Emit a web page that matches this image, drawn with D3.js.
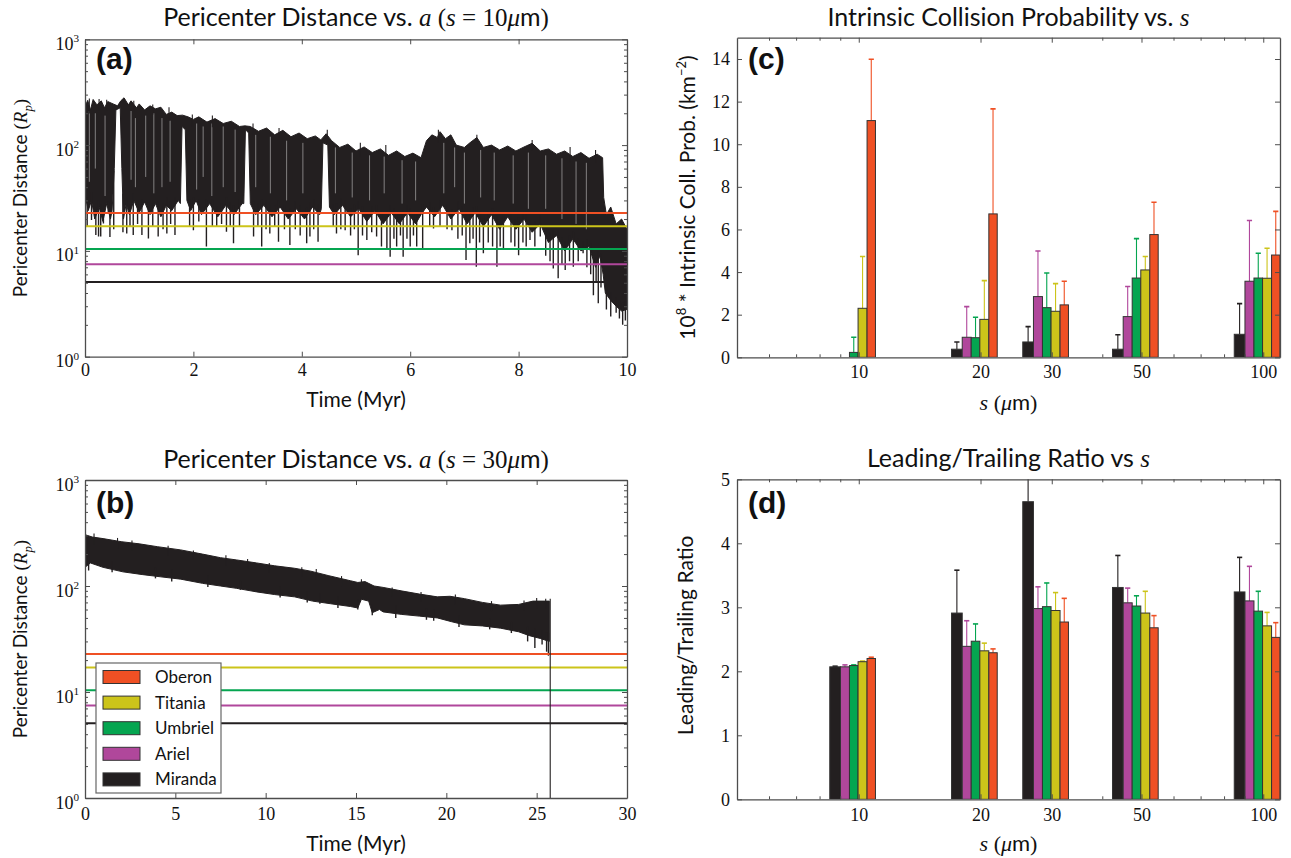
<!DOCTYPE html>
<html><head><meta charset="utf-8">
<script src="https://cdn.jsdelivr.net/npm/d3@7"></script>
<style>body{margin:0;background:#fff} text{white-space:pre}</style>
</head><body>
<svg id="chart" width="1291" height="858" xmlns="http://www.w3.org/2000/svg"></svg>
<script>
// ---------------- DATA ----------------
const moonNames = ["Oberon", "Titania", "Umbriel", "Ariel", "Miranda"];
const moonColors = ["#EF5024", "#CCC41A", "#05A550", "#B0479B", "#231F20"];
const moonDistances = [22.83, 17.07, 10.40, 7.47, 5.08]; // Uranus radii

// panel (a): s = 10 um, envelope of the pericenter distance (time Myr, R_p)
const upperA = [[0.00,230],[0.05,265],[0.10,215],[0.15,270],[0.22,240],[0.30,262],[0.36,225],[0.42,258],[0.48,250],[0.52,245],[0.60,235],[0.66,262],[0.72,280],[0.80,240],[0.85,262],[0.95,225],[1.00,245],[1.10,215],[1.20,235],[1.30,220],[1.40,228],[1.50,195],[1.60,205],[1.70,190],[1.80,192],[1.90,185],[2.00,175],[2.10,185],[2.25,165],[2.40,178],[2.55,160],[2.70,168],[2.85,150],[2.95,152],[3.05,150],[3.20,135],[3.35,145],[3.50,125],[3.65,138],[3.80,120],[3.95,130],[4.10,115],[4.25,122],[4.35,112],[4.45,128],[4.55,110],[4.70,95],[4.85,102],[5.00,88],[5.15,96],[5.30,85],[5.45,92],[5.60,80],[5.75,88],[5.90,78],[6.05,84],[6.20,76],[6.30,110],[6.40,125],[6.50,118],[6.55,134],[6.65,115],[6.75,125],[6.85,100],[7.00,95],[7.10,105],[7.23,118],[7.35,95],[7.50,100],[7.65,90],[7.80,98],[7.95,88],[8.10,96],[8.25,104],[8.40,88],[8.55,92],[8.70,82],[8.85,88],[9.00,78],[9.15,85],[9.30,75],[9.45,82],[9.55,76],[9.57,32],[9.62,22],[9.70,26],[9.80,18],[9.90,20],[10.0,16]];
const lowerA = [[0.00,34],[0.06,24],[0.12,30],[0.18,20],[0.26,26],[0.33,19],[0.40,28],[0.47,20],[0.50,24],[0.54,60],[0.57,215],[0.65,225],[0.68,60],[0.71,20],[0.76,28],[0.82,22],[0.90,30],[1.00,23],[1.10,29],[1.20,22],[1.30,28],[1.40,21],[1.50,27],[1.60,24],[1.72,30],[1.76,28],[1.79,150],[1.85,140],[1.88,30],[1.95,24],[2.05,30],[2.15,22],[2.30,28],[2.45,21],[2.60,27],[2.75,22],[2.90,28],[2.93,28],[2.96,140],[3.02,130],[3.05,28],[3.15,22],[3.30,27],[3.45,21],[3.60,26],[3.75,20],[3.90,25],[4.05,20],[4.20,26],[4.33,22],[4.36,25],[4.39,105],[4.48,100],[4.51,26],[4.60,22],[4.75,27],[4.90,21],[5.05,25],[5.20,19],[5.35,24],[5.50,18],[5.65,23],[5.80,18],[5.95,23],[6.10,18],[6.20,22],[6.30,26],[6.45,21],[6.60,27],[6.75,20],[6.90,25],[7.05,18],[7.20,23],[7.35,17],[7.50,22],[7.65,16],[7.80,21],[7.95,16],[8.10,20],[8.25,15],[8.40,18],[8.55,12],[8.70,14],[8.85,10],[9.00,13],[9.15,10],[9.30,11],[9.42,7],[9.50,9],[9.56,6],[9.60,4],[9.70,3.4],[9.80,3.0],[9.90,2.7],[10.0,2.8]];
const dipsA = [[0.04,17],[0.12,19.6],[0.20,14.1],[0.25,13.7],[0.29,13.7],[0.34,18.2],[0.43,22.6],[0.46,13.5],[0.53,16],[0.70,15],[0.77,14.6],[0.83,17],[0.89,14.1],[0.97,18],[1.05,14.1],[1.17,13.1],[1.25,17],[1.35,13.7],[1.44,16],[1.51,14.6],[1.58,18],[1.66,14.1],[1.93,17],[2.00,15.7],[2.10,19],[2.24,11.0],[2.35,17],[2.43,16.9],[2.52,18],[2.61,15.2],[2.68,17],[2.74,11.8],[2.85,17],[3.11,13.7],[3.19,17],[3.26,11.0],[3.34,16],[3.41,14.6],[3.50,17],[3.57,12.2],[3.68,16],[3.78,11.4],[3.88,16],[3.97,14],[4.09,11.8],[4.15,13.7],[4.22,16],[4.30,12.2],[4.58,17],[4.64,14.6],[4.72,16],[4.80,15.7],[4.90,14],[4.97,16],[5.04,9.1],[5.12,14],[5.20,12.7],[5.29,15],[5.38,13.7],[5.47,11.0],[5.57,10.6],[5.63,8.8],[5.70,13],[5.75,11.0],[5.82,14],[5.87,8.8],[5.94,13],[6.00,11.0],[6.06,14],[6.12,11.0],[6.23,10.2],[6.36,17],[6.43,16.3],[6.55,17],[6.68,16],[6.77,15.7],[6.88,13],[6.96,14],[7.03,8.2],[7.10,11.8],[7.16,13],[7.22,7.1],[7.28,12],[7.35,9.5],[7.44,12],[7.52,11],[7.60,7.1],[7.66,11],[7.72,10.2],[7.86,12],[7.93,11],[8.00,9.1],[8.08,12],[8.14,11],[8.21,12.7],[8.30,11],[8.40,13.7],[8.50,9],[8.58,8],[8.64,6.8],[8.73,5.5],[8.80,7.5],[8.86,6.6],[8.94,8],[9.01,7.1],[9.10,8],[9.19,9.5],[9.26,7],[9.33,6],[9.38,3.8],[9.43,5],[9.47,3.2],[9.52,4.5],[9.62,2.8],[9.70,2.4],[9.80,2.6],[9.86,2.3],[9.92,2.0],[9.97,2.2]];
const peaksA = [[0.08,275],[0.26,272],[0.40,268],[0.90,262],[1.25,242],[1.55,228],[1.98,195],[2.35,190],[3.10,160],[3.58,145],[4.47,140],[5.08,105],[5.55,100],[6.52,140],[7.23,125],[8.25,112],[8.95,96],[9.42,90]];
// white streaks seen inside the dark band: time, top, bottom
const streaksA = [[0.08,210,45],[0.19,200,60],[0.37,190,33],[0.85,210,47],[0.93,180,40],[1.12,190,50],[1.27,200,35],[1.42,180,40],[1.57,170,45],[2.06,160,38],[2.18,150,50],[2.34,160,33],[2.55,150,40],[2.77,140,36],[3.15,125,40],[3.42,120,35],[3.72,110,30],[4.02,105,35],[4.62,95,35],[4.93,85,32],[5.25,80,30],[5.52,78,35],[5.85,72,28],[6.10,70,30],[6.62,105,35],[6.82,95,40],[7.00,85,28],[7.30,90,32],[7.55,85,30],[7.90,80,28],[8.18,85,25],[8.50,80,25],[8.80,75,20],[9.06,70,18],[9.25,68,16]];

// panel (b): s = 30 um
const upperB = [[0,305],[0.4,290],[1.0,280],[2.0,262],[3.0,250],[4.0,235],[5.3,219],[6.5,200],[7.5,185],[8.4,176],[9.5,165],[10.5,155],[11.6,147],[12.5,138],[13.5,125],[14.7,112],[15.1,108],[15.5,110],[16.0,100],[16.5,97],[17.5,90],[18.5,84],[19.5,79],[20.2,80],[21.0,76],[22.0,70],[23.0,66],[24.0,67],[24.8,72],[25.7,72]];
const lowerB = [[0,150],[0.3,165],[1.0,150],[2.1,136],[3.2,128],[4.2,122],[5.3,116],[6.5,106],[7.5,100],[8.4,95],[9.5,88],[10.5,83],[11.6,79],[12.6,72],[13.6,68],[14.7,64],[15.1,62],[15.3,75],[15.7,72],[15.9,56],[16.3,60],[16.5,57],[17.5,54],[18.5,52],[19.5,50],[20.3,46],[21,43],[22,42],[23,40],[24,37],[24.6,34],[25.2,32],[25.7,30]];
const dipsB = [[0.2,140],[1.5,135],[3.9,118],[4.8,110],[6.8,98],[8.6,92],[10.8,78],[12.3,70],[13.0,68],[14.0,62],[15.1,60],[15.9,53],[17.2,50],[18.9,48],[19.3,47],[20.7,41],[22.4,39],[23.6,36],[24.5,30],[24.9,26],[25.3,28],[25.55,24],[25.65,22]];
const peaksB = [[0.5,312],[1.8,284],[2.6,268],[4.6,240],[6.0,216],[7.8,195],[9.0,180],[10.2,165],[12.0,150],[12.8,145],[14.2,124],[15.3,116],[17.0,97],[18.6,88],[20.5,83],[22.5,72],[24.3,73],[25.0,77],[25.5,76]];
const endB = [25.75, 76, 1];   // time, top, bottom of the final drop

// panels (c), (d)
const grainSizes = [10, 20, 30, 50, 100];
const barMoons = ["Miranda", "Ariel", "Umbriel", "Titania", "Oberon"];
const barColors = ["#231F20", "#B0479B", "#05A550", "#CCC41A", "#EF5024"];

const probMiranda = [0, 0.38, 0.72, 0.38, 1.08];
const probAriel   = [0, 0.94, 2.85, 1.91, 3.57];
const probUmbriel = [0.23, 0.92, 2.33, 3.72, 3.72];
const probTitania = [2.30, 1.78, 2.16, 4.10, 3.71];
const probOberon  = [11.11, 6.73, 2.46, 5.76, 4.80];
const probMirandaTop = [0, 0.72, 1.44, 1.06, 2.52];
const probArielTop   = [0, 2.38, 4.99, 3.32, 6.42];
const probUmbrielTop = [0.94, 1.88, 3.96, 5.57, 4.88];
const probTitaniaTop = [4.73, 3.60, 3.46, 4.73, 5.12];
const probOberonTop  = [13.99, 11.66, 3.57, 7.28, 6.85];

const ratioMiranda = [2.07, 2.91, 4.65, 3.31, 3.24];
const ratioAriel   = [2.07, 2.39, 2.98, 3.07, 3.10];
const ratioUmbriel = [2.09, 2.47, 3.01, 3.02, 2.94];
const ratioTitania = [2.15, 2.32, 2.95, 2.91, 2.71];
const ratioOberon  = [2.20, 2.29, 2.77, 2.68, 2.53];
const ratioMirandaTop = [2.08, 3.58, 5.40, 3.81, 3.78];
const ratioArielTop   = [2.10, 2.79, 3.32, 3.30, 3.64];
const ratioUmbrielTop = [2.10, 2.74, 3.38, 3.18, 3.25];
const ratioTitaniaTop = [2.16, 2.44, 3.23, 3.25, 2.92];
const ratioOberonTop  = [2.22, 2.35, 3.14, 2.87, 2.76];

const timeTicksA = [0, 2, 4, 6, 8, 10];
const timeTicksB = [0, 5, 10, 15, 20, 25, 30];
const logMajor = [1, 10, 100, 1000];
const logMinor = [2,3,4,5,6,7,8,9,20,30,40,50,60,70,80,90,200,300,400,500,600,700,800,900];
const sizeMinor = [6, 7, 8, 9, 40, 60, 70, 80, 90];
const probTicks = [0, 2, 4, 6, 8, 10, 12, 14];
const ratioTicks = [0, 1, 2, 3, 4, 5];

// ---------------- DRAWING ----------------
const SANS = "Lato, 'Open Sans', sans-serif";
const SERIF = "'Liberation Serif', 'DejaVu Serif', serif";
const AX = "#4d4d4d";
const INK = "#231F20";
const svg = d3.select("#chart");
const defs = svg.append("defs");

function rich(parent, x, y, parts, size, anchor = "middle", rotate = false) {
  const t = parent.append("text").attr("x", x).attr("y", y).attr("text-anchor", anchor)
    .attr("font-size", size).attr("fill", "#111");
  if (rotate) t.attr("transform", `rotate(-90 ${x} ${y})`);
  let shift = 0;
  parts.forEach(p => {
    const ts = t.append("tspan").text(p.t).attr("font-family", p.f === "serif" ? SERIF : SANS);
    if (p.i) ts.attr("font-style", "italic");
    let target = 0;
    if (p.sup) { ts.attr("font-size", size * 0.62); target = -size * 0.42; }
    if (p.sub) { ts.attr("font-size", size * 0.68); target = size * 0.25; }
    if (target !== shift) { ts.attr("dy", target - shift); shift = target; }
  });
  return t;
}

function panel(p, x, y, o) {
  const w = p.right - p.left, h = p.bottom - p.top;
  const g = svg.append("g").attr("transform", `translate(${p.left},${p.top})`);
  const id = "clip" + o.name;
  defs.append("clipPath").attr("id", id).append("rect").attr("width", w).attr("height", h);
  const plot = g.append("g").attr("clip-path", `url(#${id})`);
  const axes = g.append("g");
  const style = s => {
    s.select(".domain").attr("stroke", AX).attr("stroke-width", 1.3);
    s.selectAll(".tick line").attr("stroke", AX).attr("stroke-width", 1);
    s.selectAll(".tick text").attr("font-family", SERIF).attr("font-size", 18).attr("fill", "#111");
  };
  if (o.xMinor) {
    axes.append("g").attr("transform", `translate(0,${h})`).call(d3.axisBottom(x).tickValues(o.xMinor).tickSize(-3).tickSizeOuter(0).tickFormat("")).call(style).select(".domain").remove();
    axes.append("g").call(d3.axisTop(x).tickValues(o.xMinor).tickSize(-3).tickSizeOuter(0).tickFormat("")).call(style).select(".domain").remove();
  }
  if (o.yMinor) {
    axes.append("g").call(d3.axisLeft(y).tickValues(o.yMinor).tickSize(-3).tickSizeOuter(0).tickFormat("")).call(style).select(".domain").remove();
    axes.append("g").attr("transform", `translate(${w},0)`).call(d3.axisRight(y).tickValues(o.yMinor).tickSize(-3).tickSizeOuter(0).tickFormat("")).call(style).select(".domain").remove();
  }
  axes.append("g").attr("transform", `translate(0,${h})`)
    .call(d3.axisBottom(x).tickValues(o.xMajor).tickSize(-5).tickSizeOuter(0).tickPadding(o.xPad).tickFormat(d3.format("d"))).call(style);
  axes.append("g").call(d3.axisTop(x).tickValues(o.xMajor).tickSize(-5).tickSizeOuter(0).tickFormat("")).call(style);
  const yl = axes.append("g").call(d3.axisLeft(y).tickValues(o.yMajor).tickSize(-5).tickSizeOuter(0).tickPadding(7)
    .tickFormat(o.log ? "" : d3.format("d"))).call(style);
  axes.append("g").attr("transform", `translate(${w},0)`).call(d3.axisRight(y).tickValues(o.yMajor).tickSize(-5).tickSizeOuter(0).tickFormat("")).call(style);
  if (o.log) {
    yl.selectAll(".tick").each(function (d) {
      rich(d3.select(this), -6, 10, [{ t: "10", f: "serif" }, { t: String(Math.round(Math.log10(d))), f: "serif", sup: 1 }], 18, "end");
    });
  } else {
    yl.selectAll(".tick text").attr("dy", "0.33em");
  }
  return { g, plot, w, h };
}

function interpLog(arr, t) {
  const i = d3.bisector(d => d[0]).left(arr, t);
  if (i <= 0) return arr[0][1];
  if (i >= arr.length) return arr[arr.length - 1][1];
  const a = arr[i - 1], b = arr[i];
  return Math.exp(Math.log(a[1]) + (Math.log(b[1]) - Math.log(a[1])) * (t - a[0]) / (b[0] - a[0]));
}

// ---------- panels (a) and (b) ----------
function seriesPanel(p, name, xDomain, ticks, upper, lower, dips, peaks, streaks, label, titleParts, pad, ly) {
  const w = p.right - p.left, h = p.bottom - p.top;
  const x = d3.scaleLinear().domain(xDomain).range([0, w]);
  const y = d3.scaleLog().domain([1, 1000]).range([h, 0]);
  const P = panel(p, x, y, { name, xMajor: ticks, yMajor: logMajor, yMinor: logMinor, log: true, xPad: pad });
  const line = d3.line().x(d => x(d[0])).y(d => y(d[1]));
  const pathD = line(upper) + "L" + lower.slice().reverse().map(d => x(d[0]) + "," + y(d[1])).join("L") + "Z";
  P.plot.append("path").attr("d", pathD).attr("fill", INK).attr("stroke", INK).attr("stroke-width", 1).attr("stroke-linejoin", "bevel");
  P.plot.selectAll(".streak").data(streaks).join("line")
    .attr("x1", d => x(d[0])).attr("x2", d => x(d[0]))
    .attr("y1", d => y(d[1])).attr("y2", d => y(d[2]))
    .attr("stroke", "#fff").attr("stroke-opacity", 0.55).attr("stroke-width", 0.8);
  P.plot.selectAll(".dip").data(dips).join("line")
    .attr("x1", d => x(d[0])).attr("x2", d => x(d[0]))
    .attr("y1", d => y(d[1])).attr("y2", d => y(Math.min(interpLog(upper, d[0]), interpLog(lower, d[0]) * 1.2)))
    .attr("stroke", INK).attr("stroke-width", 1.4);
  P.plot.selectAll(".peak").data(peaks).join("line")
    .attr("x1", d => x(d[0])).attr("x2", d => x(d[0]))
    .attr("y1", d => y(d[1])).attr("y2", d => y(interpLog(upper, d[0]) * 0.85))
    .attr("stroke", INK).attr("stroke-width", 1.1);
  P.plot.selectAll(".moon").data(moonDistances).join("line")
    .attr("x1", 0).attr("x2", w).attr("y1", d => y(d)).attr("y2", d => y(d))
    .attr("stroke", (d, i) => moonColors[i]).attr("stroke-width", 2);
  rich(svg, p.left + w / 2, p.top - ly.title, titleParts, 25);
  rich(svg, p.left + w / 2, p.bottom + ly.x, [{ t: "Time (Myr)" }], 21);
  rich(svg, 27, p.top + h / 2, [{ t: "Pericenter Distance " }, { t: "(", f: "serif" }, { t: "R", f: "serif", i: 1 }, { t: "p", f: "serif", i: 1, sub: 1 }, { t: ")", f: "serif" }], 19, "middle", true);
  svg.append("text").attr("x", p.left + 11).attr("y", p.top + ly.tag).text(label)
    .attr("font-family", "'Liberation Sans', Arial, sans-serif").attr("font-weight", "bold").attr("font-size", 30).attr("fill", "#111");
  return { P, x, y };
}

const pA = { left: 85, right: 627, top: 39.3, bottom: 356.7 };
const pB = { left: 85, right: 627, top: 480, bottom: 798 };
const pC = { left: 737, right: 1280, top: 37.7, bottom: 357.3 };
const pD = { left: 737, right: 1280, top: 479.3, bottom: 799.3 };

const A = seriesPanel(pA, "A", [0, 10], timeTicksA, upperA, lowerA, dipsA, peaksA, streaksA, "(a)",
  [{ t: "Pericenter Distance vs. " }, { t: "a", f: "serif", i: 1 }, { t: " (", f: "serif" }, { t: "s", f: "serif", i: 1 }, { t: " = 10", f: "serif" }, { t: "μ", f: "serif", i: 1 }, { t: "m" }, { t: ")", f: "serif" }],
  7, { title: 13, x: 50, tag: 30 });
const B = seriesPanel(pB, "B", [0, 30], timeTicksB, upperB, lowerB, dipsB, peaksB, [], "(b)",
  [{ t: "Pericenter Distance vs. " }, { t: "a", f: "serif", i: 1 }, { t: " (", f: "serif" }, { t: "s", f: "serif", i: 1 }, { t: " = 30", f: "serif" }, { t: "μ", f: "serif", i: 1 }, { t: "m" }, { t: ")", f: "serif" }],
  9, { title: 12, x: 53, tag: 33 });
B.P.plot.append("line").attr("x1", B.x(endB[0])).attr("x2", B.x(endB[0]))
  .attr("y1", B.y(endB[1])).attr("y2", B.y(endB[2])).attr("stroke", INK).attr("stroke-width", 1.1);

// legend in panel (b)
const lg = svg.append("g").attr("transform", "translate(96,663)");
lg.append("rect").attr("width", 125).attr("height", 130).attr("fill", "#fff").attr("stroke", "#666").attr("stroke-width", 1.2);
moonNames.forEach((n, i) => {
  const cy = 14 + i * 25.6;
  lg.append("rect").attr("x", 7).attr("y", cy - 6.5).attr("width", 37).attr("height", 13)
    .attr("fill", moonColors[i]).attr("stroke", "#333").attr("stroke-width", 1);
  lg.append("text").attr("x", 59).attr("y", cy + 6).text(n).attr("font-family", SANS).attr("font-size", 17).attr("fill", "#111");
});

// ---------- panels (c) and (d) ----------
const barLeft = [-29, -18.3, -9.3, -0.7, 8.3];
const barWidth = [10.7, 9.0, 8.6, 9.0, 8.4];

function barPanel(p, name, yDomain, yTicks, vals, tops, label, titleParts, yLabelParts, o) {
  const w = p.right - p.left, h = p.bottom - p.top;
  const x = d3.scaleLog().domain([5, 110]).range([0, w]);
  const y = d3.scaleLinear().domain(yDomain).range([h, 0]);
  const P = panel(p, x, y, { name, xMajor: grainSizes, xMinor: sizeMinor, yMajor: yTicks, log: false, xPad: o.pad });
  vals.forEach((series, k) => {
    const c = barColors[k];
    series.forEach((v, j) => {
      const cx = x(grainSizes[j]) + barLeft[k] + barWidth[k] / 2;
      const top = tops[k][j];
      if (top > v) {
        P.plot.append("line").attr("x1", cx).attr("x2", cx).attr("y1", y(v)).attr("y2", y(top)).attr("stroke", c).attr("stroke-width", 1.1);
        P.plot.append("line").attr("x1", cx - 2.6).attr("x2", cx + 2.6).attr("y1", y(top)).attr("y2", y(top)).attr("stroke", c).attr("stroke-width", 1.6);
      }
    });
    P.plot.selectAll(".bar" + k).data(series).join("rect")
      .attr("x", (v, j) => x(grainSizes[j]) + barLeft[k])
      .attr("width", barWidth[k])
      .attr("y", v => y(v)).attr("height", v => Math.max(0, y(0) - y(v)))
      .attr("fill", c).attr("stroke", v => v > 0 ? "#333" : "none").attr("stroke-width", 1);
  });
  rich(svg, p.left + w / 2, p.top - o.title, titleParts, 25);
  rich(svg, p.left + w / 2, p.bottom + o.x, [{ t: "s", f: "serif", i: 1 }, { t: " (", f: "serif" }, { t: "μ", f: "serif", i: 1 }, { t: "m" }, { t: ")", f: "serif" }], 22);
  rich(svg, o.yx, p.top + h / 2 + o.yoff, yLabelParts, 21, "middle", true);
  svg.append("text").attr("x", p.left + 11).attr("y", p.top + o.tag).text(label)
    .attr("font-family", "'Liberation Sans', Arial, sans-serif").attr("font-weight", "bold").attr("font-size", 30).attr("fill", "#111");
}

barPanel(pC, "C", [0, 15], probTicks,
  [probMiranda, probAriel, probUmbriel, probTitania, probOberon],
  [probMirandaTop, probArielTop, probUmbrielTop, probTitaniaTop, probOberonTop], "(c)",
  [{ t: "Intrinsic Collision Probability vs. " }, { t: "s", f: "serif", i: 1 }],
  [{ t: "10" }, { t: "8", sup: 1 }, { t: " * Intrinsic Coll. Prob. (km" }, { t: "−2", sup: 1 }, { t: ")" }],
  { pad: 8, title: 12, x: 53, yx: 695, yoff: 0, tag: 31 });
barPanel(pD, "D", [0, 5], ratioTicks,
  [ratioMiranda, ratioAriel, ratioUmbriel, ratioTitania, ratioOberon],
  [ratioMirandaTop, ratioArielTop, ratioUmbrielTop, ratioTitaniaTop, ratioOberonTop], "(d)",
  [{ t: "Leading/Trailing Ratio vs " }, { t: "s", f: "serif", i: 1 }],
  [{ t: "Leading/Trailing Ratio" }],
  { pad: 9, title: 12, x: 52, yx: 693, yoff: -4, tag: 34 });
</script>
</body></html>
